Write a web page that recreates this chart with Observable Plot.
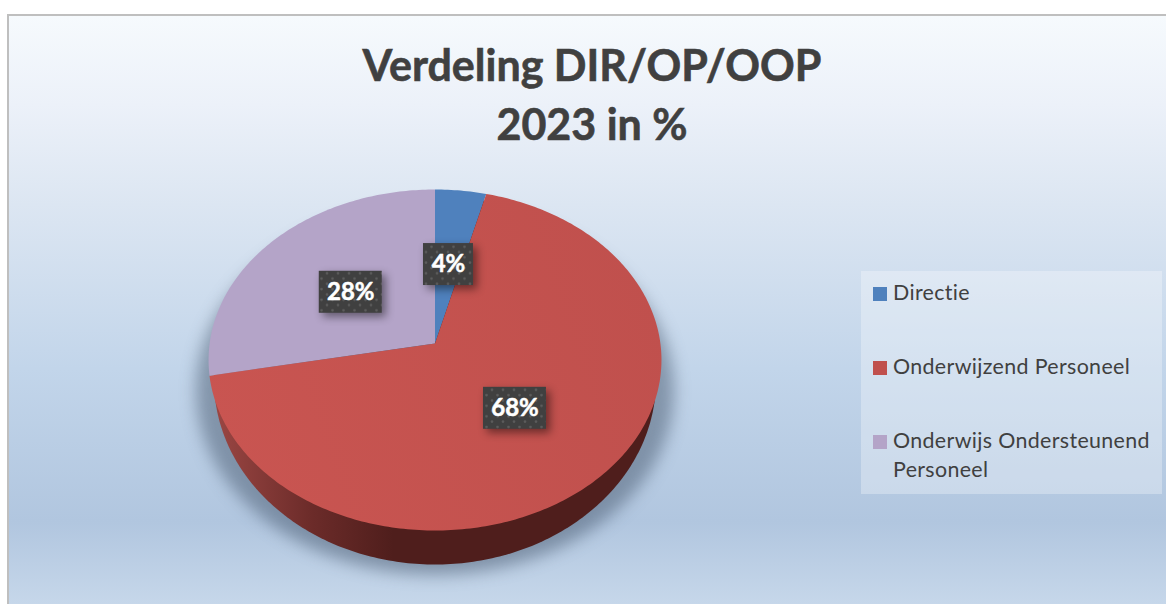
<!DOCTYPE html>
<html>
<head>
<meta charset="utf-8">
<script src="https://cdn.jsdelivr.net/npm/d3@7"></script>
<script src="https://cdn.jsdelivr.net/npm/@observablehq/plot@0.6"></script>
<style>
html,body{margin:0;padding:0;background:#fff;width:1166px;height:604px;overflow:hidden}
#chart{position:absolute;left:7px;top:14px;width:1159px;height:590px;box-sizing:border-box;
  border-left:2px solid #bfbfbf;border-top:2px solid #bfbfbf;
  background:linear-gradient(180deg,#f6fafd 0%,#ecf1f9 15%,#dce6f2 32%,#c2d5ea 60%,#b1c6df 86%,#c6d7ea 100%)}
#plot{position:absolute;left:0;top:0;width:1166px;height:604px}
.t{position:absolute;white-space:nowrap;font-family:Lato,sans-serif;color:#404040}
.title{left:292px;width:600px;text-align:center;font-weight:700;font-size:43px;line-height:52px;-webkit-text-stroke:.6px #404040}
#legend{position:absolute;left:861px;top:271px;width:301px;height:223px;background:rgba(255,255,255,.3)}
.sw{position:absolute;left:873px;width:14px;height:14px}
.lg{left:893px;font-size:21.4px;line-height:26px;letter-spacing:.35px}
</style>
</head>
<body>
<div id="chart"></div>
<div id="legend"></div>
<div id="plot"></div>
<script>
const titleLines = ["Verdeling DIR/OP/OOP", "2023 in %"];
const categories = ["Directie", "Onderwijzend Personeel", "Onderwijs Ondersteunend Personeel"];
const values = [4, 68, 28];
const colors = ["#4f81bd", "#c0504d", "#b4a4c8"];
const legendLines = [["Directie"], ["Onderwijzend Personeel"], ["Onderwijs Ondersteunend", "Personeel"]];

// perspective of the tilted disc: unit circle -> screen units
const tilt = 0.0968;
const project = (u, v) => ({x: u / (1 + tilt * v), y: v / (1 + tilt * v)});
const angleAt = p => p / 100 * 2 * Math.PI;

let acc = 0;
const sliceRows = [];
const labelRows = [];
categories.forEach((name, i) => {
  const a0 = acc, a1 = acc + values[i];
  acc = a1;
  sliceRows.push({name, ...project(0, 0)});
  const steps = Math.ceil(values[i] * 4);
  for (let s = 0; s <= steps; s++) {
    const a = angleAt(a0 + (a1 - a0) * s / steps);
    sliceRows.push({name, ...project(Math.sin(a), Math.cos(a))});
  }
  const mid = angleAt((a0 + a1) / 2);
  const p = project(0.5 * Math.sin(mid), 0.5 * Math.cos(mid));
  labelRows.push({label: values[i] + "%", x: p.x, y: p.y - 1 / 168.9});
});

// px per unit
const kx = 225.4, ky = 168.9, W = 1166, H = 604, cx = 434.5, cy = 343;
const ellipse = (ex, ey, rx, ry) => d3.range(0, 361, 1).map(d => {
  const a = d * Math.PI / 180;
  return {x: ex + rx * Math.cos(a), y: ey + ry * Math.sin(a)};
});
const rimRows = ellipse(0, -37 / ky, 221 / kx, 184 / ky);
const shadowRows = ellipse(0, -47 / ky, 239 / kx, 184 / ky);
const boxW = l => (l.length * 13 + 24) / 2 / kx, boxH = 21 / ky;

const defs = () => {
  const d = d3.create("svg:defs");
  const g = d.append("linearGradient").attr("id", "side").attr("gradientUnits", "userSpaceOnUse")
    .attr("x1", 215).attr("x2", 660).attr("y1", 0).attr("y2", 0);
  [[0, "#9a4643"], [0.22, "#6b2b29"], [0.4, "#4f1e1c"], [1, "#4f1e1c"]].forEach(([o, c]) =>
    g.append("stop").attr("offset", o).attr("stop-color", c));
  const r = d.append("linearGradient").attr("id", "redtop").attr("gradientUnits", "userSpaceOnUse")
    .attr("x1", 210).attr("x2", 660).attr("y1", 450).attr("y2", 300);
  [[0, "#c95551"], [1, "#c0504d"]].forEach(([o, c]) =>
    r.append("stop").attr("offset", o).attr("stop-color", c));
  const p = d.append("pattern").attr("id", "dots").attr("patternUnits", "userSpaceOnUse")
    .attr("width", 11).attr("height", 10.6);
  p.append("rect").attr("width", 11).attr("height", 10.6).attr("fill", "#404040");
  [[2.5, 3], [8, 8.3]].forEach(([x, y]) =>
    p.append("circle").attr("cx", x).attr("cy", y).attr("r", 1.3).attr("fill", "#5c5c5c"));
  return d.node();
};

const chart = Plot.plot({
  width: W, height: H, margin: 0,
  style: {background: "transparent"},
  x: {axis: null, domain: [-cx / kx, (W - cx) / kx], range: [0, W]},
  y: {axis: null, domain: [(cy - H) / ky, cy / ky], range: [H, 0]},
  color: {domain: categories, range: [colors[0], "url(#redtop)", colors[2]]},
  marks: [
    defs,
    Plot.line(shadowRows, {x: "x", y: "y", fill: "#2f4055", fillOpacity: 0.42, stroke: "none", imageFilter: "blur(8px)"}),
    Plot.line(rimRows, {x: "x", y: "y", fill: "url(#side)", stroke: "none"}),
    Plot.line(sliceRows, {x: "x", y: "y", z: "name", fill: "name", stroke: "none"}),
    Plot.rect(labelRows, {
      x1: d => d.x - boxW(d.label), x2: d => d.x + boxW(d.label),
      y1: d => d.y - boxH, y2: d => d.y + boxH,
      fill: "url(#dots)", imageFilter: "drop-shadow(4px 4px 4px rgba(0,0,0,.45))"
    }),
    Plot.text(labelRows, {x: "x", y: "y", text: "label", fill: "white", stroke: "white", strokeWidth: 0.5, fontFamily: "Lato, sans-serif", fontWeight: 700, fontSize: 24})
  ]
});
document.getElementById("plot").append(chart);

// title and legend as real text
titleLines.forEach((t, i) => {
  const e = document.createElement("div");
  e.className = "t title"; e.textContent = t;
  e.style.top = (39 + i * 59) + "px";
  document.body.append(e);
});
const rowsTop = [284, 358, 432];
legendLines.forEach((lines, i) => {
  const s = document.createElement("div");
  s.className = "sw"; s.style.top = (rowsTop[i] + 3) + "px"; s.style.background = colors[i];
  document.body.append(s);
  lines.forEach((t, j) => {
    const e = document.createElement("div");
    e.className = "t lg"; e.textContent = t;
    e.style.top = (rowsTop[i] - 5 + j * 29) + "px";
    document.body.append(e);
  });
});
</script>
</body>
</html>
